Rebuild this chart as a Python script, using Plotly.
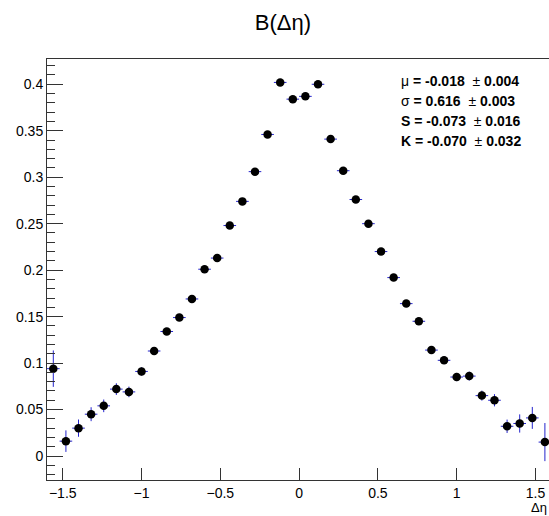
import plotly.graph_objects as go

# Bin centres of the delta-eta histogram (bin width 0.08)
deta = [-1.56, -1.48, -1.40, -1.32, -1.24, -1.16, -1.08, -1.00, -0.92, -0.84,
        -0.76, -0.68, -0.60, -0.52, -0.44, -0.36, -0.28, -0.20, -0.12, -0.04,
        0.04, 0.12, 0.20, 0.28, 0.36, 0.44, 0.52, 0.60, 0.68, 0.76,
        0.84, 0.92, 1.00, 1.08, 1.16, 1.24, 1.32, 1.40, 1.48, 1.56]

# Bin contents
bval = [0.094, 0.016, 0.030, 0.045, 0.054, 0.072, 0.069, 0.091, 0.113, 0.134,
        0.149, 0.169, 0.201, 0.213, 0.248, 0.274, 0.306, 0.346, 0.402, 0.384,
        0.387, 0.400, 0.341, 0.307, 0.276, 0.250, 0.220, 0.192, 0.164, 0.145,
        0.114, 0.103, 0.085, 0.086, 0.065, 0.060, 0.032, 0.035, 0.041, 0.015]

# Statistical uncertainties on the bin contents
berr = [0.0196, 0.0116, 0.0093, 0.0075, 0.0068, 0.0063, 0.0057, 0.0045, 0.0040, 0.0038,
        0.0036, 0.0035, 0.0034, 0.0034, 0.0033, 0.0033, 0.0032, 0.0032, 0.0032, 0.0032,
        0.0032, 0.0032, 0.0032, 0.0032, 0.0033, 0.0033, 0.0034, 0.0034, 0.0035, 0.0036,
        0.0038, 0.0040, 0.0044, 0.0048, 0.0054, 0.0066, 0.0072, 0.0098, 0.0118, 0.0205]

# Half bin width for the horizontal bars
half_width = [0.04] * len(deta)

# Moments of the distribution
stat_names = ["μ", "σ", "S", "K"]
stat_vals = ["-0.018", "0.616", "-0.073", "-0.070"]
stat_errs = ["0.004", "0.003", "0.016", "0.032"]

x_ticks = [-1.5, -1.0, -0.5, 0.0, 0.5, 1.0, 1.5]
x_ticktext = ["−1.5", "−1", "−0.5", "0", "0.5", "1", "1.5"]

FONT = "Liberation Sans, Arial, Helvetica, sans-serif"
BAR_BLUE = "#2424cc"
AXIS = "#333333"

W, H = 549, 516
ML, MR, MT, MB = 47, 0, 59, 36
PW, PH = W - ML - MR, H - MT - MB


def px_to_paper_x(px):
    return (px - ML) / PW


def px_to_paper_y(py):
    return (H - MB - py) / PH


fig = go.Figure()
fig.add_trace(go.Scatter(
    x=deta, y=bval, mode="markers",
    marker=dict(color="black", size=8.5, symbol="circle", line=dict(width=0)),
    error_x=dict(type="data", array=half_width, color=BAR_BLUE, thickness=1, width=0),
    error_y=dict(type="data", array=berr, color=BAR_BLUE, thickness=1, width=0),
    showlegend=False,
    cliponaxis=True,
))

annotations = []
line_y = [81, 101, 121, 141]
for name, val, err, py in zip(stat_names, stat_vals, stat_errs, line_y):
    name_txt = name if name in ("μ", "σ") else f"<b>{name}</b>"
    annotations.append(dict(
        xref="paper", yref="paper",
        x=px_to_paper_x(399), y=px_to_paper_y(py),
        xanchor="left", yanchor="middle",
        text=f"{name_txt}<b> = {val}</b>\u00a0\u00a0±\u00a0<b>{err}</b>",
        showarrow=False,
        font=dict(family=FONT, size=14, color="black"),
    ))

# Axis title, right-aligned at the end of the x axis
annotations.append(dict(
    xref="paper", yref="paper",
    x=px_to_paper_x(548), y=px_to_paper_y(515.5),
    xanchor="right", yanchor="bottom", borderpad=0,
    text="Δη", showarrow=False,
    font=dict(family=FONT, size=13, color="black"),
))

fig.update_layout(
    width=W, height=H,
    margin=dict(l=ML, r=MR, t=MT, b=MB, pad=0),
    paper_bgcolor="white", plot_bgcolor="white",
    title=dict(
        text="B(Δη)", xref="container", yref="container",
        x=283 / W, y=1 - 22 / H, xanchor="center", yanchor="middle",
        font=dict(family=FONT, size=22, color="black"),
    ),
    font=dict(family=FONT, size=14, color="black"),
    annotations=annotations,
    xaxis=dict(
        range=[-1.6, 1.586],
        tickvals=x_ticks, ticktext=x_ticktext,
        ticks="inside", ticklen=12, tickwidth=1, tickcolor=AXIS,
        showline=True, linecolor=AXIS, linewidth=1, mirror=True,
        showgrid=False, zeroline=False,
        tickfont=dict(family=FONT, size=14, color="black"),
    ),
    yaxis=dict(
        range=[-0.0258, 0.4272],
        tick0=0, dtick=0.05,
        ticks="inside", ticklen=16, tickwidth=1, tickcolor=AXIS,
        minor=dict(dtick=0.01, ticks="inside", ticklen=8, tickcolor=AXIS, showgrid=False),
        showline=True, linecolor=AXIS, linewidth=1, mirror=True,
        showgrid=False, zeroline=False,
        tickfont=dict(family=FONT, size=14, color="black"),
    ),
)

fig.write_html("out.html")
